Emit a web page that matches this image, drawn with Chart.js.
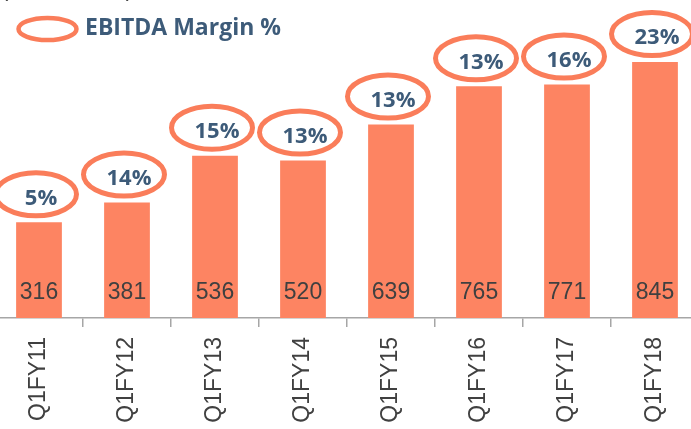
<!DOCTYPE html>
<html>
<head>
<meta charset="utf-8">
<script src="https://cdn.jsdelivr.net/npm/chart.js@4"></script>
<style>
  html, body { margin: 0; padding: 0; background: #fff; overflow: hidden; }
  #wrap { position: relative; width: 691px; height: 429px; overflow: hidden; }
  #chart { position: absolute; left: -5px; top: 0; }
</style>
</head>
<body>
<div id="wrap"><canvas id="chart" width="704" height="429"></canvas></div>
<script>
const quarters = ['Q1FY11', 'Q1FY12', 'Q1FY13', 'Q1FY14', 'Q1FY15', 'Q1FY16', 'Q1FY17', 'Q1FY18'];
const revenue = [316, 381, 536, 520, 639, 765, 771, 845];
const margins = [5, 14, 15, 13, 13, 13, 16, 23];

const ORANGE = '#FD8462';
const RING = '#FA7D5A';
const BLUE = '#3D5B79';
const GREY = '#404040';

// value inside the bars, margin % in a ring above each bar, legend
const labelsPlugin = {
    id: 'labels',
    afterDatasetsDraw(chart) {
        const ctx = chart.ctx;
        const meta = chart.getDatasetMeta(0);
        const yScale = chart.scales.y;
        ctx.save();

        meta.data.forEach((bar, i) => {
            // revenue number near the bottom of the bar
            ctx.fillStyle = GREY;
            ctx.font = '23px "Liberation Sans"';
            ctx.textAlign = 'center';
            ctx.textBaseline = 'middle';
            ctx.fillText(revenue[i], bar.x, yScale.getPixelForValue(0) - 25);

            // ring with margin %
            const cx = bar.x - 3;
            const cy = bar.y - 28;
            ctx.strokeStyle = RING;
            ctx.lineWidth = 5;
            ctx.beginPath();
            ctx.ellipse(cx, cy, 40.5, 21.5, 0, 0, Math.PI * 2);
            ctx.stroke();

            ctx.fillStyle = BLUE;
            ctx.font = 'bold 22px "Open Sans"';
            ctx.fillText(margins[i] + '%', cx + 5, cy + 4);
        });

        // legend (canvas is shifted 5px left)
        ctx.strokeStyle = RING;
        ctx.lineWidth = 4.5;
        ctx.beginPath();
        ctx.ellipse(52.5, 29, 29, 11, 0, 0, Math.PI * 2);
        ctx.stroke();
        ctx.fillStyle = BLUE;
        ctx.font = 'bold 23px "Open Sans"';
        ctx.textAlign = 'left';
        ctx.textBaseline = 'middle';
        ctx.fillText('EBITDA Margin %', 90, 28);

        // unit caption, cut off at the top edge
        ctx.fillStyle = GREY;
        ctx.font = '22px "Liberation Sans"';
        ctx.textBaseline = 'alphabetic';
        ctx.fillText('(Rs. in Crore)', 6, -4);

        ctx.restore();
    }
};

new Chart(document.getElementById('chart'), {
    type: 'bar',
    data: {
        labels: quarters,
        datasets: [{
            data: revenue,
            backgroundColor: ORANGE,
            borderWidth: 0,
            barPercentage: 0.65,
            categoryPercentage: 0.8
        }]
    },
    options: {
        responsive: false,
        animation: false,
        layout: { padding: 0 },
        plugins: {
            legend: { display: false },
            tooltip: { enabled: false }
        },
        scales: {
            x: {
                grid: {
                    drawOnChartArea: false,
                    drawTicks: true,
                    tickLength: 9,
                    color: '#A6A6A6',
                    lineWidth: 1.5
                },
                border: { color: '#A6A6A6', width: 1.5 },
                ticks: {
                    color: GREY,
                    font: { family: 'Liberation Sans', size: 23 },
                    minRotation: 90,
                    maxRotation: 90,
                    padding: 10
                },
                afterFit(scale) { scale.height = 111; }
            },
            y: {
                display: false,
                min: 0,
                max: 1050
            }
        }
    },
    plugins: [labelsPlugin]
});
</script>
</body>
</html>
